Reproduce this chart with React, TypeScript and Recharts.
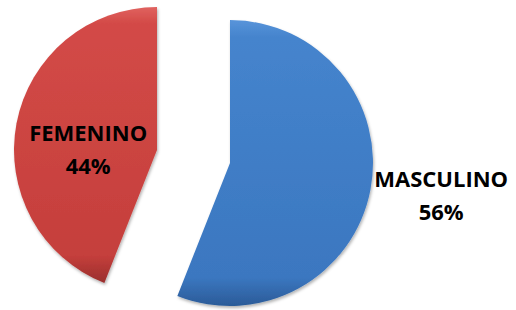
import { PieChart, Pie, Cell } from 'recharts';

const categories = ['MASCULINO', 'FEMENINO'];
const shares = [56, 44];

const pieData = categories.map((name, i) => ({ name, value: shares[i] }));

const FONT = '"Open Sans", Lato, sans-serif';

function makeLabel(showIndex: number, inside: boolean) {
  return (props: any) => {
    const { cx, cy, midAngle, outerRadius, index, name, value } = props;
    if (index !== showIndex) return <g />;
    const rad = (Math.PI / 180) * midAngle;
    const r = inside ? outerRadius * 0.49 : outerRadius + 72;
    const x = cx + r * Math.cos(rad);
    const y = cy - r * Math.sin(rad);
    const shift = inside ? 4 : -16;
    return (
      <text
        x={x}
        y={y}
        textAnchor="middle"
        fill="#000"
        fontFamily={FONT}
        fontWeight={700}
        fontSize={22}
      >
        <tspan x={x} dy={shift}>{name}</tspan>
        <tspan x={x} dy={33}>{`${value}%`}</tspan>
      </text>
    );
  };
}

export default function App() {
  return (
    <div style={{ position: 'absolute', left: 0, top: 0, width: 516, height: 310, background: '#fff' }}>
      <PieChart width={516} height={310} margin={{ top: 0, right: 0, bottom: 0, left: 0 }}>
        <defs>
          <linearGradient id="blueFill" x1="0" y1="0" x2="0" y2="1">
            <stop offset="0%" stopColor="#5894da" />
            <stop offset="6%" stopColor="#4584cd" />
            <stop offset="90%" stopColor="#3b77c0" />
            <stop offset="100%" stopColor="#2b5b98" />
          </linearGradient>
          <linearGradient id="redFill" x1="0" y1="0" x2="0" y2="1">
            <stop offset="0%" stopColor="#e0625f" />
            <stop offset="6%" stopColor="#d34a47" />
            <stop offset="90%" stopColor="#c53f3c" />
            <stop offset="100%" stopColor="#9a2e2c" />
          </linearGradient>
          <filter id="softShadow" x="-10%" y="-10%" width="120%" height="120%">
            <feDropShadow dx="1" dy="2" stdDeviation="1.5" floodColor="#000" floodOpacity="0.3" />
          </filter>
        </defs>
        <Pie
          data={pieData}
          dataKey="value"
          nameKey="name"
          cx={230}
          cy={163}
          outerRadius={143}
          startAngle={90}
          endAngle={-270}
          stroke="none"
          labelLine={false}
          label={makeLabel(0, false)}
          isAnimationActive={false}
          style={{ filter: 'url(#softShadow)' }}
        >
          <Cell fill="url(#blueFill)" />
          <Cell fill="none" />
        </Pie>
        <Pie
          data={pieData}
          dataKey="value"
          nameKey="name"
          cx={157}
          cy={150}
          outerRadius={143}
          startAngle={90}
          endAngle={-270}
          stroke="none"
          labelLine={false}
          label={makeLabel(1, true)}
          isAnimationActive={false}
          style={{ filter: 'url(#softShadow)' }}
        >
          <Cell fill="none" />
          <Cell fill="url(#redFill)" />
        </Pie>
      </PieChart>
    </div>
  );
}
